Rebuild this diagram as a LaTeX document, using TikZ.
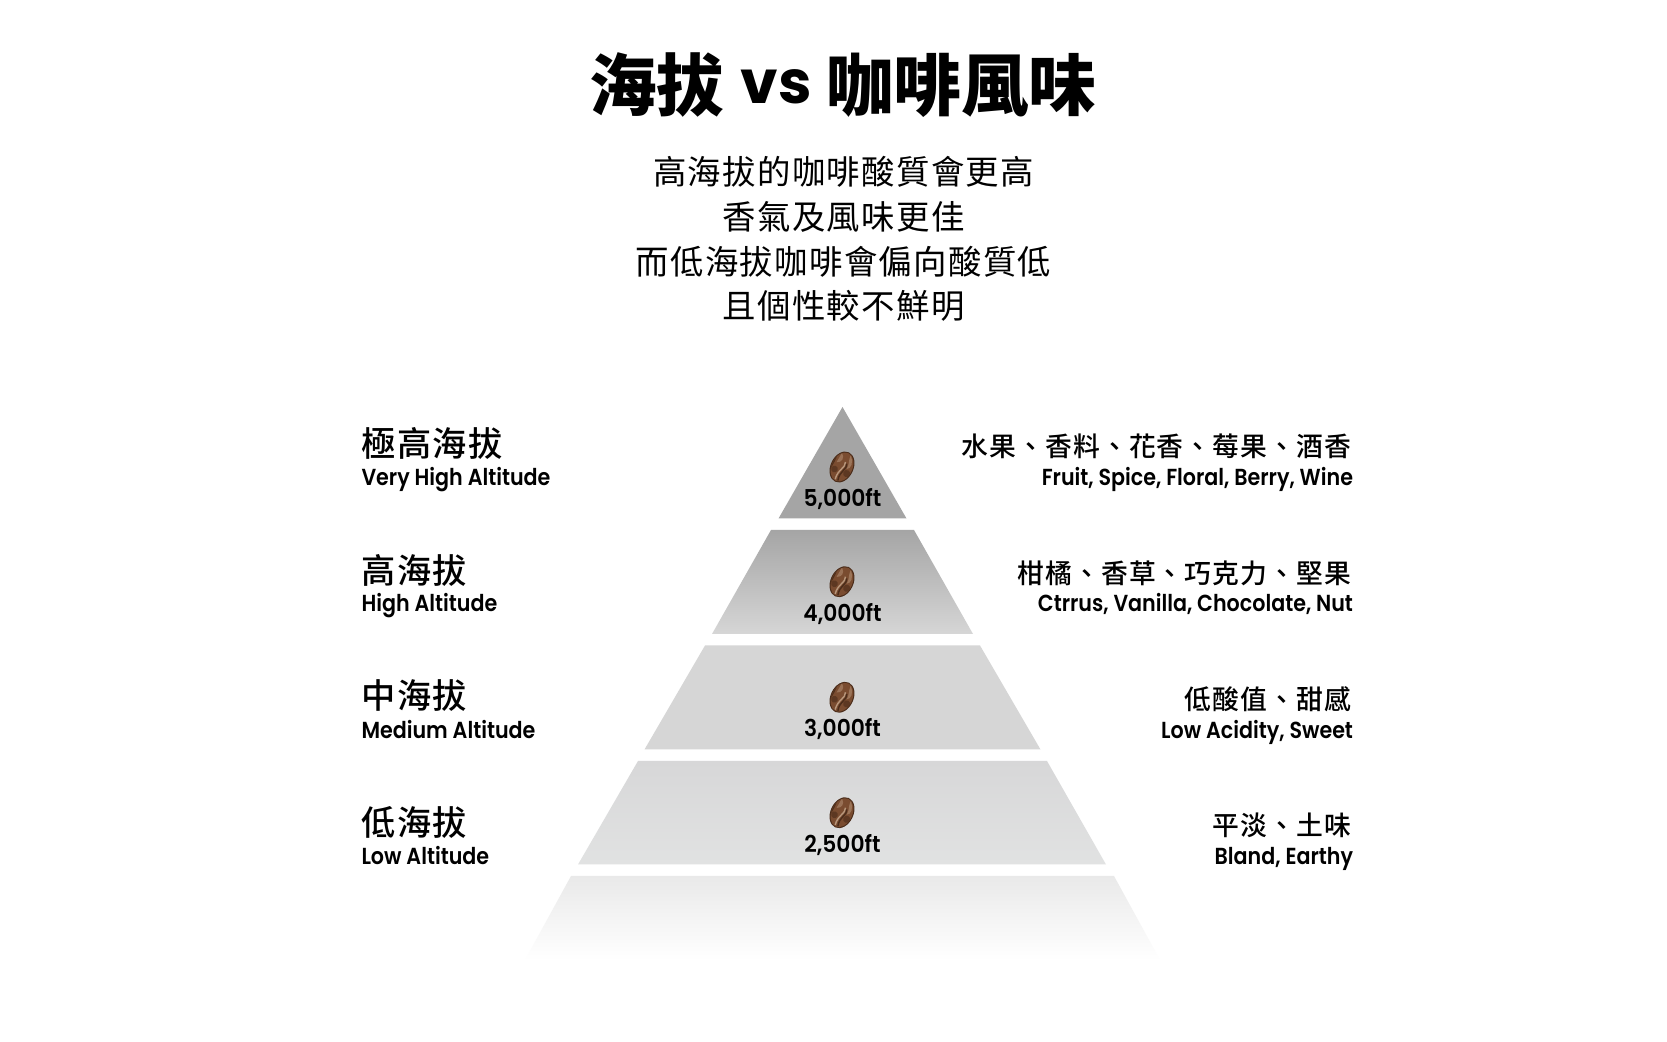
\documentclass[tikz,border=0pt]{standalone}
\usepackage{fontspec}
\setmainfont{Poppins}
\newfontfamily\latinf[FakeStretch=0.89]{Poppins SemiBold}
\newfontfamily\latinn[FakeStretch=0.94]{Poppins SemiBold}
\newfontfamily\latint{Poppins Bold}
\newfontfamily\cjkbold{Noto Sans CJK TC Black}
\newfontfamily\cjkm[LetterSpace=4]{Noto Sans CJK TC Medium}
\newfontfamily\cjkr[LetterSpace=4]{Noto Sans CJK TC}
\definecolor{inkc}{HTML}{000000}
\definecolor{beand}{HTML}{4A2C1A}
\definecolor{beanm}{HTML}{7A4C30}
\definecolor{beanl}{HTML}{B8977C}
\definecolor{g1}{HTML}{A5A5A5}
\definecolor{g2}{HTML}{D6D6D6}
\definecolor{g3}{HTML}{D7D7D8}
\definecolor{g4}{HTML}{E1E2E2}
\definecolor{g5}{HTML}{E9E9E9}
\tikzset{
  x=0.5pt,y=-0.5pt,
  txt/.style={inner sep=0pt,outer sep=0pt,text=inkc},
  title/.style={txt,font=\cjkbold\fontsize{33.8}{36}\selectfont},
  titlev/.style={txt,font=\latint\fontsize{30}{36}\selectfont},
  sub/.style={txt,font=\cjkr\fontsize{16.7}{20}\selectfont},
  lh/.style={txt,anchor=west,font=\cjkm\fontsize{17.1}{20}\selectfont},
  le/.style={txt,anchor=base west,font=\latinf\fontsize{11.6}{13}\selectfont},
  rh/.style={txt,anchor=east,font=\cjkm\fontsize{13.4}{16}\selectfont},
  re/.style={txt,anchor=base east,font=\latinf\fontsize{11.6}{13}\selectfont},
  ft/.style={txt,font=\latinn\fontsize{11.6}{13}\selectfont},
  bean/.pic={
    \begin{scope}[rotate=-25]
      \fill[beand] (0,0) ellipse [x radius=5.75pt,y radius=8.1pt];
      \clip (0,0) ellipse [x radius=5.2pt,y radius=7.6pt];
      \fill[beanm] (-14,-17) rectangle (14,17);
      \fill[beand!85!beanm] (-12,-17) .. controls (-7,-8) and (-9,4) .. (-12,17) -- (-24,17) -- (-24,-17) -- cycle;
      \fill[beanl,opacity=.55] (3,-14) .. controls (9,-9) and (9,-2) .. (5,0) .. controls (6,-5) and (3,-8) .. (3,-14) -- cycle;
      \fill[beanl,opacity=.5] (-6,-13) .. controls (-1,-9) and (-2,-4) .. (-7,-2) -- cycle;
      \draw[beanl,line width=.7pt] (1,-6) .. controls (4,-1) and (-3,4) .. (-1,14);
      \draw[beand,line width=.7pt] (3,-5) .. controls (6,0) and (-1,5) .. (2,14);
      \fill[beand,opacity=.6] (7,4) circle (1.8pt);
      \fill[beand,opacity=.6] (-6,5) circle (1.7pt);
    \end{scope}
  },
}
\begin{document}
\begin{tikzpicture}
\useasboundingbox (0,0) rectangle (1667,1042);
\fill[white] (0,0) rectangle (1667,1042);
% pyramid
\fill[g1] (842.5,407) -- (906.5,518.5) -- (778.5,518.5) -- cycle;
\shade[top color=g1,bottom color=g2] (771,530) -- (914,530) -- (973,634) -- (712,634) -- cycle;
\fill[g2] (705,645.5) -- (980,645.5) -- (1040.5,749.5) -- (644.5,749.5) -- cycle;
\shade[top color=g3,bottom color=g4] (638,761) -- (1047,761) -- (1106,864.5) -- (578,864.5) -- cycle;
\shade[top color=g5,bottom color=white] (571,876) -- (1114,876) -- (1160,960) -- (525,960) -- cycle;
% beans
\pic (b1) at (842,467) {bean};
\pic (b2) at (842,581.7) {bean};
\pic (b3) at (842,697.3) {bean};
\pic (b4) at (842,812.7) {bean};
% altitudes
\node[ft] (f1) at (842.5,499.5) {5,000ft};
\node[ft] (f2) at (842.5,614) {4,000ft};
\node[ft] (f3) at (842.5,729) {3,000ft};
\node[ft] (f4) at (842.5,845) {2,500ft};
% title
\node[title,anchor=east] (t1) at (724.5,85) {海拔};
\node[titlev,anchor=center] (t2) at (776,87) {vs};
\node[title,anchor=west] (t3) at (826,85) {咖啡風味};
% subtitle
\node[sub] (s1) at (843.5,171.5) {高海拔的咖啡酸質會更高};
\node[sub] (s2) at (843.5,216.5) {香氣及風味更佳};
\node[sub] (s3) at (843.5,261.5) {而低海拔咖啡會偏向酸質低};
\node[sub] (s4) at (843.5,305.5) {且個性較不鮮明};
% left
\node[lh] (l1) at (361.5,443) {極高海拔};
\node[le] (l1e) at (361.5,486) {Very High Altitude};
\node[lh] (l2) at (361.5,570.5) {高海拔};
\node[le] (l2e) at (361.5,612) {High Altitude};
\node[lh] (l3) at (361.5,696) {中海拔};
\node[le] (l3e) at (361.5,739) {Medium Altitude};
\node[lh] (l4) at (361.5,822) {低海拔};
\node[le] (l4e) at (361.5,865) {Low Altitude};
% right
\node[rh] (r1) at (1351,446) {水果、香料、花香、莓果、酒香};
\node[re] (r1e) at (1353,486) {Fruit, Spice, Floral, Berry, Wine};
\node[rh] (r2) at (1351,573.5) {柑橘、香草、巧克力、堅果};
\node[re] (r2e) at (1353,612) {Ctrrus, Vanilla, Chocolate, Nut};
\node[rh] (r3) at (1351,699) {低酸值、甜感};
\node[re] (r3e) at (1353,739) {Low Acidity, Sweet};
\node[rh] (r4) at (1351,825) {平淡、土味};
\node[re] (r4e) at (1353,865) {Bland, Earthy};
\end{tikzpicture}
\end{document}
